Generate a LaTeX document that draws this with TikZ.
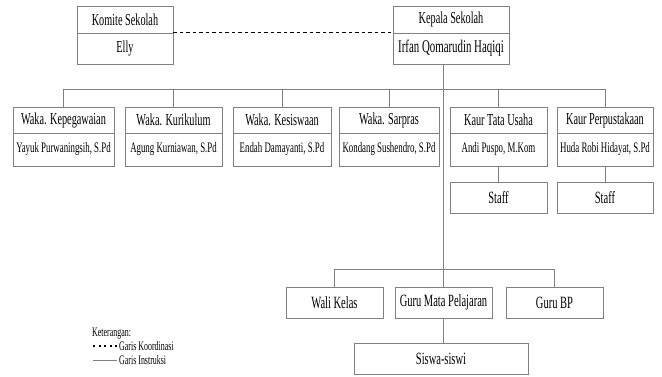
\documentclass[tikz,border=0pt]{standalone}
\usepackage{fontspec}
\newfontfamily\orgfont[FakeStretch=0.61]{Liberation Serif}
\definecolor{linegray}{HTML}{808080}
\begin{document}
\begin{tikzpicture}[x=1pt,y=-1pt,
  box/.style={draw=linegray, line width=0.8pt, rectangle, inner sep=0pt, align=center, text=black},
  ttl/.style={box, font=\orgfont\fontsize{16.8}{19}\selectfont},
  nm/.style={box, font=\orgfont\fontsize{14.5}{16}\selectfont},
  big/.style={box, font=\orgfont\fontsize{17.2}{19}\selectfont},
  instr/.style={draw=linegray, line width=0.8pt},
  coord/.style={draw=black, line width=1.5pt, dash pattern=on 3.5pt off 3pt},
  legend/.style={font=\orgfont\fontsize{13}{15}\selectfont, inner sep=0pt, anchor=west}]
\useasboundingbox (0,0) rectangle (662,377);
\fill[white] (0,0) rectangle (662,377);

% top level
\node[ttl, minimum width=96, minimum height=27] (komt) at (125,19.5) {Komite Sekolah};
\node[ttl, minimum width=96, minimum height=31] (komn) at (125,48.5) {Elly};
\node[ttl, minimum width=116, minimum height=27] (kept) at (451,19.5) {Kepala Sekolah};
\node[box, font=\orgfont\fontsize{17.8}{19}\selectfont, minimum width=116, minimum height=31] (kepn) at (451,48.5) {Irfan Qomarudin Haqiqi};

% second level
\node[ttl, minimum width=101, minimum height=26] (b1t) at (63.5,120) {Waka. Kepegawaian};
\node[nm,  minimum width=101, minimum height=33] (b1n) at (63.5,149.5) {Yayuk Purwaningsih, S.Pd};
\node[ttl, minimum width=97, minimum height=26] (b2t) at (173.5,120) {Waka. Kurikulum};
\node[nm,  minimum width=97, minimum height=33] (b2n) at (173.5,149.5) {Agung Kurniawan, S.Pd};
\node[ttl, minimum width=98, minimum height=26] (b3t) at (282,120) {Waka. Kesiswaan};
\node[nm,  minimum width=98, minimum height=33] (b3n) at (282,149.5) {Endah Damayanti, S.Pd};
\node[ttl, minimum width=100, minimum height=26] (b4t) at (389,120) {Waka. Sarpras};
\node[nm,  minimum width=100, minimum height=33] (b4n) at (389,149.5) {Kondang Sushendro, S.Pd};
\node[ttl, minimum width=97, minimum height=26] (b5t) at (498.5,120) {Kaur Tata Usaha};
\node[nm,  minimum width=97, minimum height=33] (b5n) at (498.5,149.5) {Andi Puspo, M.Kom};
\node[ttl, minimum width=96, minimum height=26] (b6t) at (605,120) {Kaur Perpustakaan};
\node[nm,  minimum width=96, minimum height=33] (b6n) at (605,149.5) {Huda Robi Hidayat, S.Pd};

% staff
\node[big, minimum width=97, minimum height=31] (st1) at (498.5,197.5) {Staff};
\node[big, minimum width=96, minimum height=31] (st2) at (605,197.5) {Staff};

% teachers and students
\node[big, minimum width=97, minimum height=31] (wali) at (334.5,302.5) {Wali Kelas};
\node[big, minimum width=97, minimum height=31] (gmp) at (443.5,302.5) {Guru Mata Pelajaran};
\node[big, minimum width=97, minimum height=31] (gbp) at (554.5,302.5) {Guru BP};
\node[big, minimum width=174, minimum height=31] (siswa) at (441,358.5) {Siswa-siswi};

% connectors
\draw[coord] (komn.north east) -- (kepn.north west);
\coordinate (trunk) at (443.5,89);
\coordinate (bar) at (443.5,269);
\draw[instr] (kepn.south -| trunk) -- (trunk) -- (bar) -- (gmp.north);
\draw[instr] (b1t.north |- trunk) -- (b6t.north |- trunk);
\foreach \b in {b1t,b2t,b3t,b4t,b5t,b6t}
  \draw[instr] (\b.north |- trunk) -- (\b.north);
\draw[instr] (wali.north) -- (wali.north |- bar) -- (gbp.north |- bar) -- (gbp.north);
\draw[instr] (b5n.south) -- (st1.north);
\draw[instr] (b6n.south) -- (st2.north);
\draw[instr] (gmp.south) -- (gmp.south |- siswa.north);

% legend
\node[legend] (ket) at (92,334) {Keterangan:};
\coordinate (l1a) at (93,346);
\coordinate (l1b) at (117,346);
\coordinate (l2a) at (93,360);
\coordinate (l2b) at (117,360);
\draw[draw=black, line width=1.2pt, dash pattern=on 2pt off 3.5pt] (l1a) -- (l1b);
\draw[instr] (l2a) -- (l2b);
\node[legend] (lk) at (119,346) {Garis Koordinasi};
\node[legend] (li) at (119,360) {Garis Instruksi};
\end{tikzpicture}
\end{document}
